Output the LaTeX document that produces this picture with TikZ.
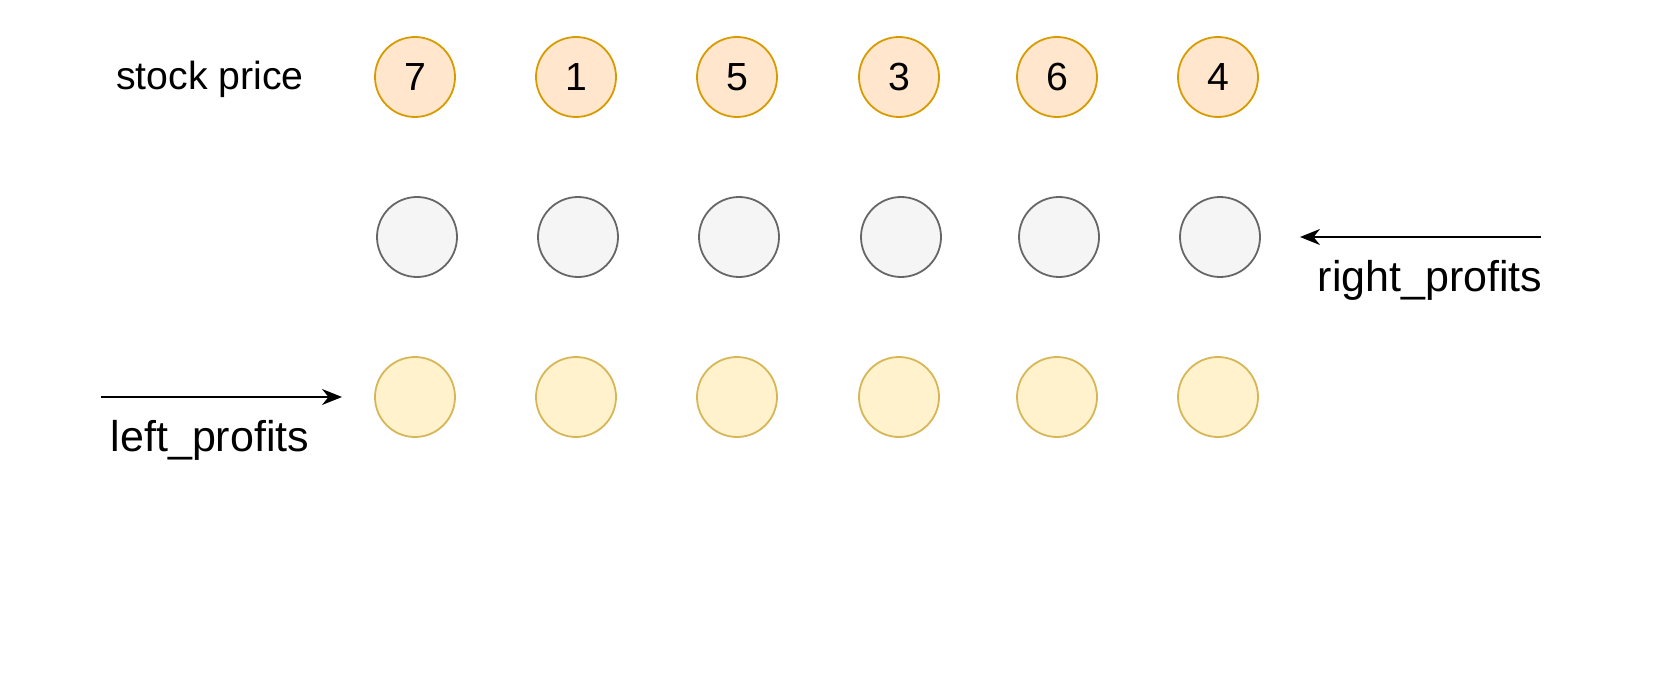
\documentclass[tikz,border=0pt]{standalone}
\usepackage{fontspec}
\setmainfont{Liberation Sans}
\usetikzlibrary{arrows.meta}

\definecolor{priceFill}{HTML}{FFE6CC}
\definecolor{priceLine}{HTML}{D79B00}
\definecolor{rightFill}{HTML}{F5F5F5}
\definecolor{rightLine}{HTML}{666666}
\definecolor{leftFill}{HTML}{FFF2CC}
\definecolor{leftLine}{HTML}{D6B656}

\tikzset{
  dot/.style={circle, minimum size=40pt, inner sep=0pt, line width=0.9pt,
    font=\fontsize{19.6}{24}\selectfont},
  price/.style={dot, fill=priceFill, draw=priceLine},
  rightp/.style={dot, fill=rightFill, draw=rightLine},
  leftp/.style={dot, fill=leftFill, draw=leftLine},
  lbl/.style={font=\fontsize{19.6}{24}\selectfont, inner sep=0pt},
  scan/.style={-{Stealth[length=10pt,width=8pt]}, line width=0.9pt}
}

\begin{document}
\begin{tikzpicture}[x=0.5pt, y=-0.5pt]
  \useasboundingbox (0,0) rectangle (1674,700);

  % three rows of cells
  \foreach \x/\v [count=\i] in {415/7,576/1,737/5,899/3,1057/6,1218/4} {
    \node[price] (p\i) at (\x,77) {\v};
    \node[rightp] (r\i) at (\x+2,237) {};
    \node[leftp] (l\i) at (\x,397) {};
  }

  \node[lbl] (stock) at (210,79) {stock price};
  \node[lbl, font=\fontsize{21.5}{26}\selectfont] (lefttxt) at (210,440) {left\_profits};
  \node[lbl, font=\fontsize{21.5}{26}\selectfont] (righttxt) at (1430,280) {right\_profits};

  % scan directions
  \coordinate (lstart) at (101,397);
  \coordinate (lend) at (342,397);
  \draw[scan] (lstart) -- (lend);

  \coordinate (rstart) at (1541,237);
  \coordinate (rend) at (1300,237);
  \draw[scan] (rstart) -- (rend);
\end{tikzpicture}
\end{document}
